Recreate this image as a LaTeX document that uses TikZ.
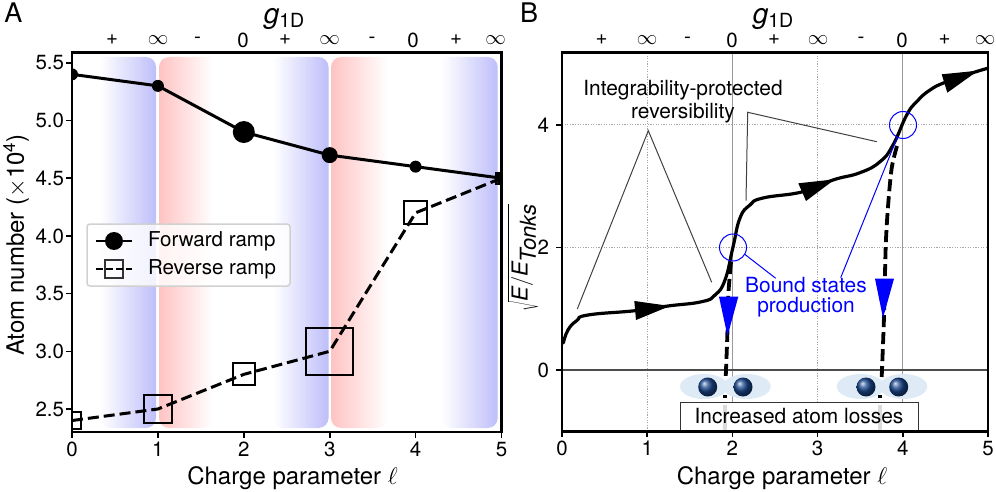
\documentclass[tikz,border=0pt]{standalone}
\usepackage{fix-cm}
\usepackage{fontspec}
\setmainfont{TeX Gyre Heros}
\usepackage{tikz}
\usetikzlibrary{shapes.geometric}
\definecolor{bandblue}{RGB}{190,190,250}
\definecolor{bandpink}{RGB}{255,195,195}
\definecolor{blobblue}{RGB}{222,234,245}
\definecolor{ballblue}{RGB}{25,70,140}
\newcommand{\ticksize}{\fontsize{20.5}{23}\selectfont}
\newcommand{\notesize}{\fontsize{20.9}{23}\selectfont}
\newcommand{\labelsize}{\fontsize{24}{28}\selectfont}
\newcommand{\signsize}{\fontsize{27}{28}\selectfont}
\tikzset{
  every node/.style={font=\ticksize,inner sep=0pt,outer sep=0pt},
  frameline/.style={line width=2.4pt},
  tickline/.style={line width=1.6pt},
  fwdline/.style={line width=3pt},
  revline/.style={line width=3pt,dash pattern=on 11pt off 5pt},
  fwddot/.style={circle,fill=black},
  revbox/.style={rectangle,draw=black,line width=2pt},
  remark/.style={draw=black!75,line width=1pt},
  bluemark/.style={draw=blue,line width=1pt},
  bluetip/.style={fill=blue},
  losses/.style={line width=3.8pt,dash pattern=on 12pt off 5pt},
  griddot/.style={black!35,line width=1pt,dash pattern=on 1.2pt off 1.4pt},
  gridline/.style={black!40,line width=1.1pt},
  blob/.style={ellipse,fill=blobblue,minimum width=48pt,minimum height=25pt},
  atomball/.style={circle,ball color=ballblue,minimum size=19pt},
}
\begin{document}
\begin{tikzpicture}[x=1pt,y=-1pt,>=stealth]
  \useasboundingbox (0,0) rectangle (996,492);

  % left panel
  \foreach \a/\b in {100/156,273/328.5,441.7/497.7}
    \shade[left color=white,right color=bandblue] (\a,57) [rounded corners=10pt] -- (\b,57) -- (\b,428) -- (\a,428) [sharp corners] -- (\a,57) -- cycle;
  \foreach \a/\b in {159/213,331/388}
    \shade[left color=bandpink,right color=white] (\b,57) [rounded corners=10pt] -- (\a,57) -- (\a,428) -- (\b,428) [sharp corners] -- (\b,57) -- cycle;

  \begin{scope}[shift={(72,697.5)},x=85.9pt,y=115.4pt]
    \begin{scope}
      \clip (0,2.3) rectangle (5,5.59);
      \foreach \x/\y/\s [count=\i] in {0/5.4/12,1/5.3/12,2/4.9/22,3/4.7/16,4/4.6/12,5/4.5/12}
        \node[fwddot,minimum size=\s pt] (f\i) at (\x,\y) {};
      \foreach \x/\y/\s [count=\i] in {0/2.4/17,1/2.5/28,2/2.8/22,3/3.0/47,4/4.2/23,5/4.5/11}
        \node[revbox,minimum size=\s pt] (r\i) at (\x,\y) {};
      \draw[fwdline] (f1.center) -- (f2.center) -- (f3.center) -- (f4.center) -- (f5.center) -- (f6.center);
      \draw[revline] (r1.center) -- (r2.center) -- (r3.center) -- (r4.center) -- (r5.center) -- (r6.center);
    \end{scope}
    \foreach \v [count=\i] in {2.5,3.0,3.5,4.0,4.5,5.0,5.5}
      \draw[tickline] (0,\v) -- ++(-6pt,0) node[left=2pt] (ya\i) {\v};
    \foreach \x [count=\i] in {0,...,5}
      \draw[tickline] (\x,2.3) -- ++(0,-6pt) node[below=4pt] (xa\i) {\x};
    \draw[frameline] (0,2.3) rectangle (5,5.59);
  \end{scope}

  \node (legendbox) [draw=black!18,line width=1.5pt,rounded corners=3pt,fill=white,fill opacity=.8,minimum width=203pt,minimum height=62pt] at (188.5,255) {};
  \coordinate (fa) at (96,241);
  \coordinate (fb) at (132,241);
  \coordinate (ra) at (96,269);
  \coordinate (rb) at (132,269);
  \node[fwddot,minimum size=18pt] (fkey) at (114,241) {};
  \node[revbox,draw=black!80,line width=1.2pt,minimum size=18pt] (rkey) at (114,269) {};
  \draw[line width=1.8pt] (fa) -- (fb);
  \draw[line width=1.6pt,dash pattern=on 7pt off 3pt] (ra) -- (rb);
  \node[anchor=west] (ftext) at (148,241) {Forward ramp};
  \node[anchor=west] (rtext) at (148,269) {Reverse ramp};

  \foreach \x/\s [count=\i] in {112/+,158/$\infty$,197.5/{-},243/0,285/+,329.5/$\infty$,372/{-},413/0,456/+,495.5/$\infty$}
    \node (ga\i) at (\x,40) {\s};
  \foreach \x/\s [count=\i] in {601.7/+,647/$\infty$,687.5/{-},732/0,774/+,818/$\infty$,861/{-},902/0,944.7/+,985/$\infty$}
    \node (gb\i) at (\x,40) {\s};
  \node (gtitlea) at (284,19) {\fontsize{28}{30}\selectfont\textit{g}\raisebox{-4pt}{\fontsize{19.5}{22}\selectfont 1D}};
  \node (gtitleb) at (773,19) {\fontsize{28}{30}\selectfont\textit{g}\raisebox{-4pt}{\fontsize{19.5}{22}\selectfont 1D}};
  \node (panela) at (13.5,13) {\fontsize{27}{30}\selectfont A};
  \node (panelb) at (529,13) {\fontsize{27}{30}\selectfont B};
  \node (xlabela) at (292.5,478) {\labelsize Charge parameter $\ell$};
  \node (xlabelb) at (782,478) {\labelsize Charge parameter $\ell$};
  \node[rotate=90] (ylabela) at (16,245) {\labelsize Atom number ($\times$10\textsuperscript{4})};
  \node[rotate=90] (ylabelb) at (523,258) {\fontsize{22}{26}\selectfont $\sqrt{\textit{E}/\textit{E}_{\textit{Tonks}}}$};

  % right panel
  \begin{scope}[shift={(562,370)},x=85.2pt,y=61.25pt]
    \foreach \x in {1,3}
      \draw[griddot] (\x,-1) -- (\x,5.18);
    \foreach \y in {2,4}
      \draw[griddot] (0,\y) -- (5,\y);
    \foreach \x in {2,4}
      \draw[gridline] (\x,-1) -- (\x,5.18);
    \draw[black!70,line width=1.2pt] (0,0) -- (5,0);
    \foreach \v [count=\i] in {0,2,4}
      \draw[tickline] (0,\v) -- ++(-6pt,0) node[left=7pt] (yb\i) {\v};
    \foreach \x [count=\i] in {0,...,5}
      \draw[tickline] (\x,-1) -- ++(0,-6pt) node[below=4pt] (xb\i) {\x};
  \end{scope}

  \foreach \a/\b/\c/\d in {704/746.7/707.7/743,860.7/903.3/866/898.7}{
    \node[blob] at (\a,386.5) {};
    \node[blob] at (\b,386.5) {};
    \node[atomball] at (\c,387) {};
    \node[atomball] at (\d,387) {};
  }
  \node (lossbox) [draw=black!80,line width=1pt,fill=white,minimum width=237.5pt,minimum height=28.5pt] at (799.5,416.5) {};
  \fill[black!14] (723,405) rectangle (727,431);
  \fill[black!14] (878,405) rectangle (882,431);
  \node (losstext) [font=\notesize] at (799,416) {Increased atom losses};

  \draw[losses] plot[smooth] coordinates {(731,262) (728.3,295) (727.3,336) (726,370) (725.7,377)};
  \draw[losses,dash pattern=on 3pt off 1pt] (725,395) -- (725,398);
  \draw[losses] plot[smooth] coordinates {(897,146) (891.7,168) (888,206.7) (885.7,246.7) (884,316.7) (881.7,377)};
  \draw[losses,dash pattern=on 3pt off 1pt] (880,395) -- (880,398);

  \draw[line width=3.2pt,line cap=round] plot[smooth,tension=.8] coordinates {(563.3,343) (568,330) (576.7,320.7) (588,315) (635,310.7) (668,306) (701.7,301.7) (715,295) (725,280) (733,247) (740,218) (750,205) (763,198) (803,191.7) (833,180) (860,172.7) (880,161.7) (893,145) (906.7,115) (916.7,101.7) (930,90) (946.7,81.7) (973,72.7) (987.7,68.3)};
  \fill (634.3,301) -- (636,320) -- (670,306) -- cycle;
  \fill (798.3,183.3) -- (806,201) -- (835,179.3) -- cycle;
  \fill (941.7,74.3) -- (947.3,92.7) -- (978,70.7) -- cycle;

  \fill[bluetip] (719,296.7) -- (738.3,296.7) -- (727.5,336) -- cycle;
  \fill[bluetip] (875,278.7) -- (894,278.7) -- (883,318) -- cycle;

  \node (bounda) [circle,bluemark,minimum size=27pt] at (733,247.5) {};
  \node (boundb) [circle,bluemark,minimum size=27pt] at (903,125) {};
  \node (boundtext) [text=blue,align=center,font=\notesize] at (806,297) {Bound states\\[-2.5pt]production};
  \coordinate (boundendA) at (775.7,278.3);
  \coordinate (boundendB) at (840.7,277.7);
  \draw[bluemark] (bounda.-30) -- (boundendA);
  \draw[bluemark] (boundb.-115) -- (boundendB);

  \node (reversal) [align=center,font=\notesize] at (683,101.5) {Integrability-protected\\reversibility};
  \coordinate (peakA) at (648.3,130.7);
  \coordinate (peakB) at (747.7,112.3);
  \coordinate (footA) at (577.3,309);
  \coordinate (footB) at (711.7,282.3);
  \coordinate (footC) at (746,200.7);
  \coordinate (footD) at (876.7,141.7);
  \draw[remark] (footA) -- (peakA) -- (footB);
  \draw[remark] (footC) -- (peakB) -- (footD);

  \draw[frameline] (562,52.5) rectangle (988,431.5);
\end{tikzpicture}
\end{document}
